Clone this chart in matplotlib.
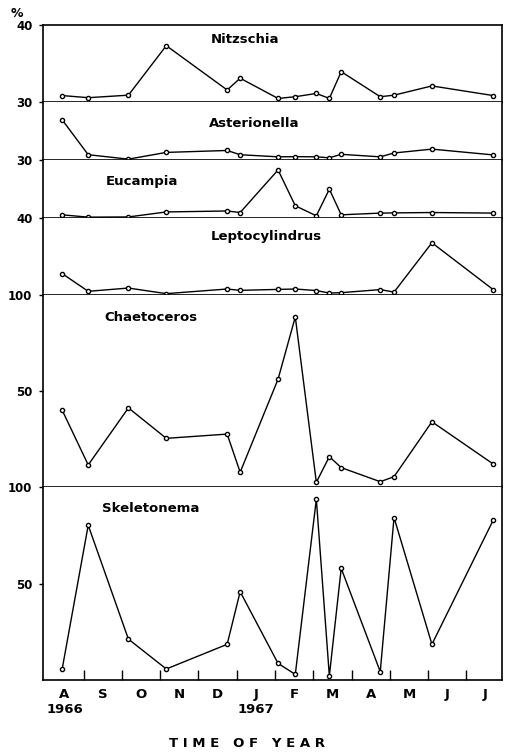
import numpy as np
import matplotlib
matplotlib.use("Agg")
import matplotlib.pyplot as plt

# sampling dates as months since 1 Aug 1966
months = [0.44, 1.12, 2.17, 3.16, 4.75, 5.09, 6.08, 6.53, 7.08, 7.42, 7.73, 8.75, 9.11, 10.10, 11.70]

nitzschia = [3.3, 2.2, 3.5, 29.2, 6.2, 12.3, 1.8, 2.7, 4.4, 1.8, 15.7, 2.7, 3.5, 8.3, 3.3]
asterionella = [20.7, 2.6, 0.3, 3.8, 4.8, 2.6, 1.5, 1.6, 1.5, 1.0, 2.8, 1.5, 3.5, 5.5, 2.5]
eucampia = [1.4, 0.2, 0.3, 2.9, 3.4, 2.6, 24.7, 6.1, 0.9, 14.7, 1.4, 2.3, 2.4, 2.6, 2.3]
leptocylindrus = [10.9, 1.7, 3.4, 0.5, 2.9, 2.2, 2.7, 2.9, 2.1, 0.8, 1.0, 2.6, 1.3, 26.9, 2.6]
chaetoceros = [40.0, 11.6, 41.2, 25.4, 27.6, 7.8, 56.1, 88.4, 2.6, 15.9, 10.2, 2.9, 5.5, 34.0, 12.1]
skeletonema = [5.7, 80.3, 21.2, 5.7, 18.5, 45.8, 8.6, 2.9, 93.8, 2.1, 57.9, 4.3, 84.3, 18.5, 82.9]

names = ["Nitzschia", "Asterionella", "Eucampia", "Leptocylindrus", "Chaetoceros", "Skeletonema"]
series = [nitzschia, asterionella, eucampia, leptocylindrus, chaetoceros, skeletonema]
ymax = [40, 30, 30, 40, 100, 100]
yticks = [[40], [30], [30], [40], [50, 100], [50, 100]]
name_pos = [(5.22, 32.6), (5.46, 18.7), (2.53, 18.7), (5.77, 30.0), (2.77, 88.0), (2.74, 89.0)]

month_labels = ["A", "S", "O", "N", "D", "J", "F", "M", "A", "M", "J", "J"]

fig, axes = plt.subplots(6, 1, figsize=(5.05, 7.53), dpi=100, sharex=True,
                         gridspec_kw={"height_ratios": ymax, "hspace": 0})
fig.subplots_adjust(left=0.086, right=0.994, top=0.967, bottom=0.097)

for i, ax in enumerate(axes):
    ax.plot(months, series[i], color="black", lw=1.0, marker="o", markersize=3.0,
            mfc="white", mec="black", mew=1.0)
    ax.set_ylim(0, ymax[i])
    ax.set_xlim(-0.05, 11.93)
    ax.set_yticks(yticks[i])
    ax.set_yticklabels([str(v) for v in yticks[i]], fontsize=8.5, fontweight="bold")
    ax.tick_params(axis="y", length=3, width=1, direction="out", pad=5)
    for s in ax.spines.values():
        s.set_linewidth(1.2)
    if i > 0:
        ax.spines["top"].set_visible(False)
    ax.text(name_pos[i][0], name_pos[i][1], names[i], ha="center", va="center",
            fontsize=9.5, fontweight="bold")
    if i < 5:
        ax.tick_params(axis="x", length=0, labelbottom=False)

axes[0].text(-0.045, 1.06, "%", transform=axes[0].transAxes, ha="right", va="bottom",
             fontsize=9, fontweight="bold")

bottom = axes[-1]
bottom.set_xticks(np.arange(1, 12))
bottom.set_xticklabels([])
bottom.set_xticks(np.arange(12) + 0.5, minor=True)
bottom.set_xticklabels(month_labels, minor=True, fontsize=9.5, fontweight="bold")
bottom.tick_params(axis="x", which="major", direction="in", length=7, width=1)
bottom.tick_params(axis="x", which="minor", length=0, pad=6)
bottom.text(0.5, -0.12, "1966", transform=bottom.get_xaxis_transform(), ha="center",
            va="top", fontsize=9.5, fontweight="bold")
bottom.text(5.5, -0.12, "1967", transform=bottom.get_xaxis_transform(), ha="center",
            va="top", fontsize=9.5, fontweight="bold")
fig.text(0.49, 0.004, "T I M E   O F   Y E A R", ha="center", va="bottom",
         fontsize=9.5, fontweight="bold")

fig.savefig("out.png", dpi=100, facecolor="white")
